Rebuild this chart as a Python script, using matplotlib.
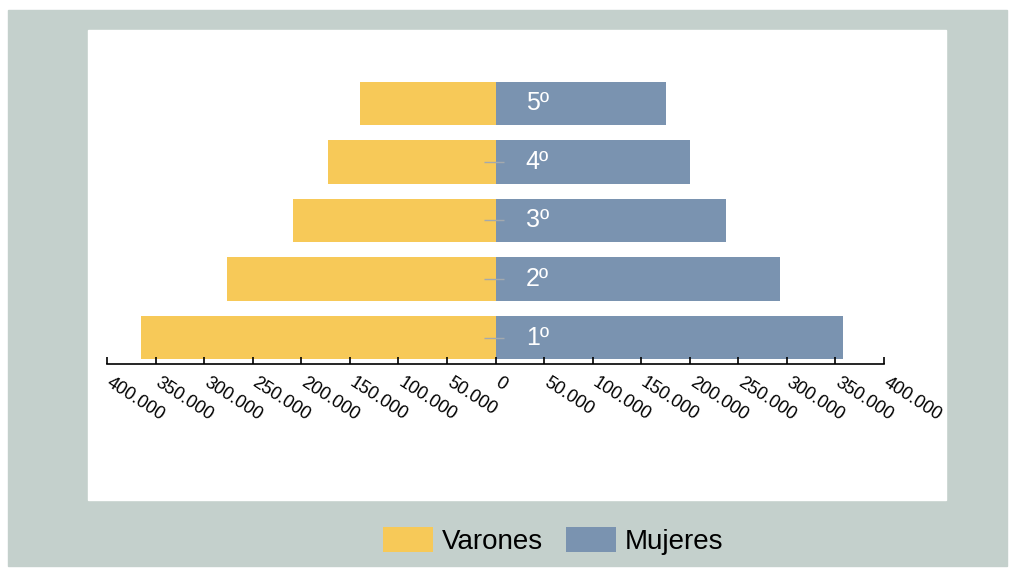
import matplotlib.pyplot as plt
from matplotlib.patches import Rectangle
from matplotlib.transforms import ScaledTranslation

plt.rcParams['font.family'] = ['Liberation Sans', 'DejaVu Sans']

# datos
cursos = ['1º', '2º', '3º', '4º', '5º']
varones = [365000, 276000, 208000, 172000, 139000]
mujeres = [358000, 293000, 237000, 200000, 176000]
ticks = list(range(-400000, 400001, 50000))

amarillo = '#f7c958'
azul = '#7a93b0'

W, H = 1015, 574
fig = plt.figure(figsize=(W / 100, H / 100), dpi=100, facecolor='white')

# fondo gris y panel blanco
fig.patches.append(Rectangle((8 / W, 1 - 566 / H), 999 / W, 556 / H,
                             transform=fig.transFigure, color='#c4d0cc', zorder=-2))
fig.patches.append(Rectangle((88 / W, 1 - 500 / H), 858 / W, 470 / H,
                             transform=fig.transFigure, color='white', zorder=-1))

ax = fig.add_axes([107 / W, 1 - 364 / H, 777 / W, 290 / H])
ax.patch.set_alpha(0)

y = range(len(cursos))
ax.barh(y, [-v for v in varones], height=0.74, color=amarillo, label='Varones')
ax.barh(y, mujeres, height=0.74, color=azul, label='Mujeres')

for i, c in enumerate(cursos):
    ax.text(43000, i, c, ha='center', va='center', color='white', fontsize=18)

ax.set_xlim(-400000, 400000)
ax.set_ylim(-0.45, 4.5)

ax.set_xticks(ticks)
ax.set_xticklabels([f'{abs(t):,}'.replace(',', '.') for t in ticks],
                   rotation=-33, ha='left', va='top', rotation_mode='anchor',
                   fontsize=13)
ax.tick_params(axis='x', direction='in', length=5, width=1.2, pad=7)
desplaza = ScaledTranslation(6 / 100, 0, fig.dpi_scale_trans)
for lbl in ax.get_xticklabels():
    lbl.set_transform(lbl.get_transform() + desplaza)

for s in ['top', 'right']:
    ax.spines[s].set_visible(False)
ax.spines['bottom'].set_linewidth(1.2)
ax.spines['left'].set_position(('data', -2000))
ax.spines['left'].set_visible(False)
ax.set_yticks([0, 1, 2, 3])
ax.set_yticklabels([])
ax.tick_params(axis='y', direction='inout', length=14, width=1, color='#a3a9ae')

fig.legend(loc='center', bbox_to_anchor=(553 / W, 1 - 541 / H), ncol=2,
           frameon=False, fontsize=20, handlelength=1.8, handleheight=1.0,
           handletextpad=0.3, columnspacing=0.85)

fig.savefig('out.png', dpi=100, facecolor='white')
